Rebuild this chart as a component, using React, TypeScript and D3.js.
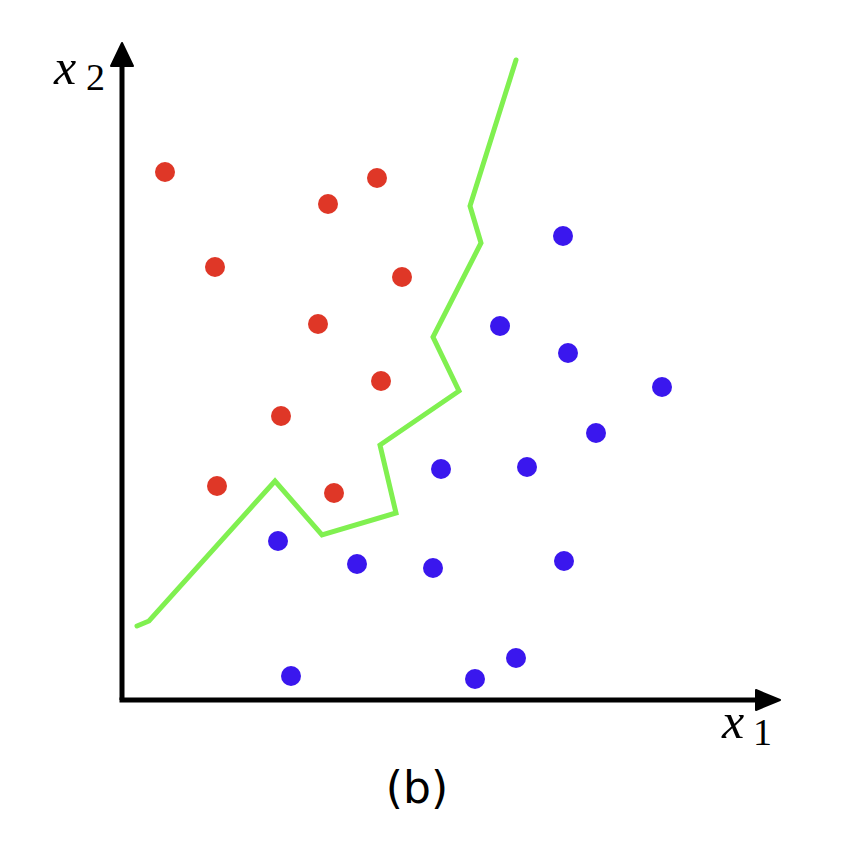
import React from "react";
import * as d3 from "d3";

const redX = [43, 206, 255, 93, 280, 196, 259, 159, 95, 212];
const redY = [529, 497, 523, 434, 424, 377, 320, 285, 215, 208];
const blueX = [441, 378, 446, 540, 474, 319, 405, 156, 235, 311, 442, 169, 353, 394];
const blueY = [465, 375, 348, 314, 268, 232, 234, 160, 137, 133, 140, 25, 22, 43];
const boundaryX = [15, 27, 153, 200, 274, 258, 337, 311, 359, 348, 394];
const boundaryY = [74, 79, 219, 165, 187, 255, 309, 363, 457, 494, 640];

const W = 864;
const H = 847;

const App = () => {
  const x = d3.scaleLinear().domain([0, 660]).range([122, 782]);
  const y = d3.scaleLinear().domain([0, 660]).range([700, 40]);

  const boundary = d3
    .line<number>()
    .x((d) => x(d))
    .y((d, i) => y(boundaryY[i]));

  const x0 = x(0);
  const y0 = y(0);

  return (
    <svg width={W} height={H} style={{ display: "block", margin: -8 }}>
      <rect width={W} height={H} fill="#fff" />
      {/* axes */}
      <line x1={x0} y1={y0} x2={x0} y2={62} stroke="#000" strokeWidth={5} />
      <line x1={x0 - 2.5} y1={y0} x2={760} y2={y0} stroke="#000" strokeWidth={5} />
      <path d={`M${x0},43 L${x0 + 11},66 L${x0 - 11},66 Z`} fill="#000" stroke="#000" strokeWidth={2} strokeLinejoin="round" />
      <path d={`M780,${y0} L756,${y0 - 10} L756,${y0 + 10} Z`} fill="#000" stroke="#000" strokeWidth={2} strokeLinejoin="round" />

      <path
        d={boundary(boundaryX) || ""}
        fill="none"
        stroke="#80f050"
        strokeWidth={5}
        strokeLinejoin="miter"
        strokeLinecap="round"
      />

      {redX.map((d, i) => (
        <circle key={"r" + i} cx={x(d)} cy={y(redY[i]) + 1} r={10} fill="#df3727" />
      ))}
      {blueX.map((d, i) => (
        <circle key={"b" + i} cx={x(d)} cy={y(blueY[i]) + 1} r={10} fill="#3a17ee" />
      ))}

      {/* labels */}
      <text x={54} y={84} fontFamily="Liberation Serif" fontStyle="italic" fontSize={50}>
        x
      </text>
      <text x={86} y={90} fontFamily="Liberation Serif" fontSize={38}>
        2
      </text>
      <text x={722} y={738} fontFamily="Liberation Serif" fontStyle="italic" fontSize={50}>
        x
      </text>
      <text x={753} y={745} fontFamily="Liberation Serif" fontSize={38}>
        1
      </text>
      <text x={417} y={803} textAnchor="middle" fontFamily="DejaVu Sans" fontSize={44}>
        (b)
      </text>
    </svg>
  );
};

export default App;
